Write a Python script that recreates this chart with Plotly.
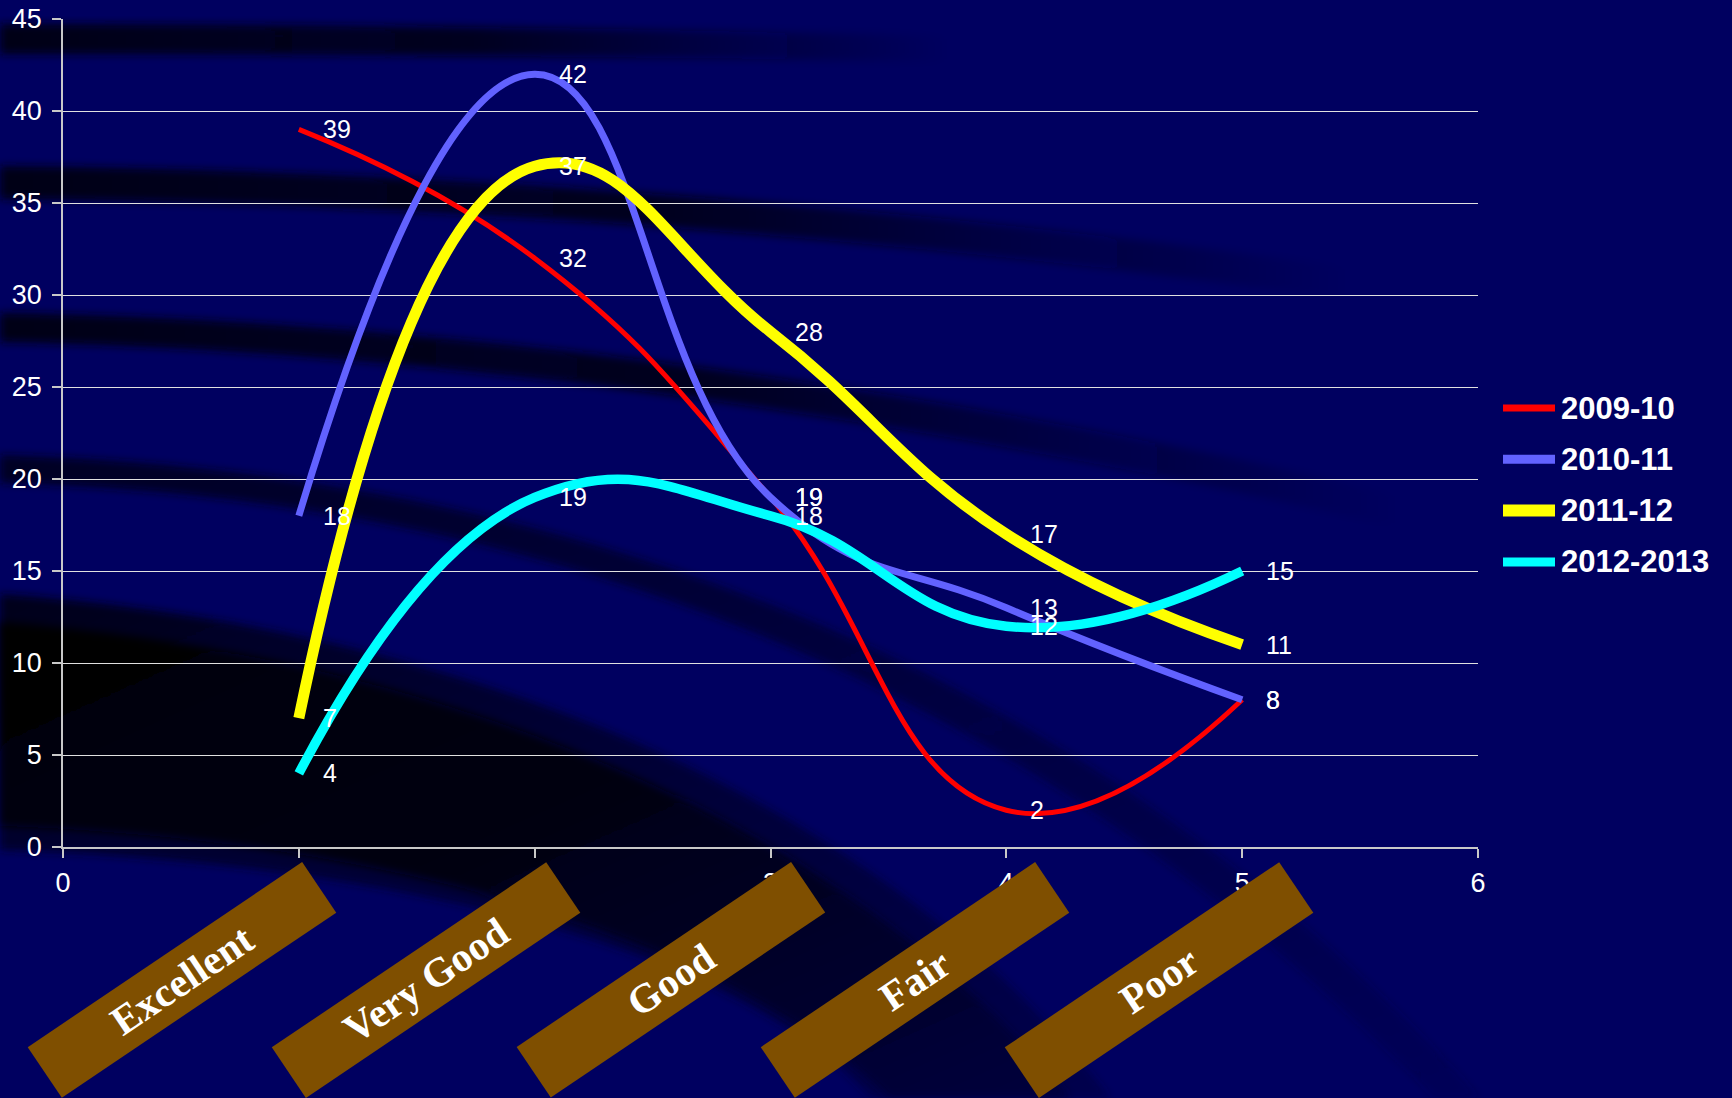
import base64
import plotly.graph_objects as go

# ---------------- data ----------------
x_vals = [1, 2, 3, 4, 5]
categories = ["Excellent", "Very Good", "Good", "Fair", "Poor"]
series_names = ["2009-10", "2010-11", "2011-12", "2012-2013"]
s2009 = [39, 32, 19, 2, 8]
s2010 = [18, 42, 19, 13, 8]
s2011 = [7, 37, 28, 17, 11]
s2012 = [4, 19, 18, 12, 15]
y_ticks = [0, 5, 10, 15, 20, 25, 30, 35, 40, 45]
x_ticks = [0, 1, 2, 3, 4, 5, 6]

series_values = [s2009, s2010, s2011, s2012]
colors = ["#FF0000", "#6262FF", "#FFFF00", "#00FFFF"]
widths = [5, 7, 11, 9.5]
legend_widths = [7, 9, 12, 9]

W, H = 1732, 1098
ML, MR, MT, MB = 63, 254, 19, 251
PW, PH = W - ML - MR, H - MT - MB


def px_x(p):
    return (p - ML) / PW


def px_y(p):
    return (H - MB - p) / PH


# ---------------- background (decorative) ----------------
svg = f'''<svg xmlns="http://www.w3.org/2000/svg" width="{W}" height="{H}" viewBox="0 0 {W} {H}">
<defs>
<filter id="b" x="-5%" y="-20%" width="110%" height="140%"><feGaussianBlur stdDeviation="4"/></filter>
<linearGradient id="g1" x1="0" y1="0" x2="1" y2="0">
<stop offset="0" stop-color="#000014" stop-opacity="1"/>
<stop offset="0.5" stop-color="#000014" stop-opacity="0.8"/>
<stop offset="1" stop-color="#000014" stop-opacity="0"/></linearGradient>
<linearGradient id="g4" x1="0" y1="0" x2="1" y2="1">
<stop offset="0" stop-color="#000018" stop-opacity="0.85"/>
<stop offset="0.6" stop-color="#000028" stop-opacity="0.45"/>
<stop offset="1" stop-color="#000030" stop-opacity="0.2"/></linearGradient>
<linearGradient id="g5" x1="0" y1="0" x2="1" y2="1">
<stop offset="0" stop-color="#000003" stop-opacity="1"/>
<stop offset="0.45" stop-color="#000010" stop-opacity="0.95"/>
<stop offset="1" stop-color="#000030" stop-opacity="0.55"/></linearGradient>
<linearGradient id="g6" x1="0" y1="0" x2="1" y2="1">
<stop offset="0" stop-color="#000018" stop-opacity="0.95"/>
<stop offset="1" stop-color="#000030" stop-opacity="0.4"/></linearGradient>
</defs>
<rect width="{W}" height="{H}" fill="#000060"/>
<path d="M0,24 C300,24 600,28 950,36 L950,62 C600,56 300,54 0,54 Z" fill="url(#g1)" filter="url(#b)"/>
<path d="M0,166 C450,170 950,210 1350,268 L1350,300 C950,243 450,202 0,199 Z" fill="url(#g1)" filter="url(#b)"/>
<path d="M0,313 C450,320 950,390 1400,495 L1400,528 C950,424 450,350 0,342 Z" fill="url(#g1)" filter="url(#b)"/>
<path d="M0,455 C500,470 1050,620 1480,1098 L1435,1098 C1000,650 500,496 0,483 Z" fill="url(#g4)" filter="url(#b)"/>
<path d="M0,594 C500,630 900,820 1110,1098 L870,1098 C740,950 400,862 0,850 Z" fill="url(#g6)" filter="url(#b)"/>
<path d="M0,622 C480,660 860,840 1070,1098 L890,1098 C730,940 400,840 0,826 Z" fill="url(#g5)" filter="url(#b)"/>
</svg>'''
bg_uri = "data:image/svg+xml;base64," + base64.b64encode(svg.encode()).decode()

fig = go.Figure()
for name, vals, c, w in zip(series_names, series_values, colors, widths):
    fig.add_trace(go.Scatter(
        x=x_vals, y=vals, name=name, mode="lines",
        line=dict(color=c, width=w, shape="spline", smoothing=1.3),
        hoverinfo="x+y+name", showlegend=False,
    ))

annotations = []
shapes = []
# data labels
for vals in series_values:
    for xv, yv in zip(x_vals, vals):
        annotations.append(dict(
            x=xv, y=yv, xref="x", yref="y", text=str(yv), showarrow=False,
            xanchor="left", yanchor="middle", xshift=22,
            font=dict(family="Liberation Sans, Arial", size=25, color="white"),
        ))
# category boxes
for i, (xv, cat) in enumerate(zip(x_vals, categories)):
    annotations.append(dict(
        x=xv, y=-0.1606, xref="x", yref="paper", text=f"<b>{cat}</b>",
        showarrow=False, xanchor="center", yanchor="middle",
        xshift=-117 + 8.5 * i, textangle=-34,
        width=330, height=60, borderpad=0,
        bgcolor="#7F4F00",
        font=dict(family="Liberation Serif, Times New Roman", size=41, color="white"),
    ))
# legend (drawn manually to match the long, thick sample lines)
for i, (name, c, lw) in enumerate(zip(series_names, colors, legend_widths)):
    yc = 408 + 51.3 * i
    shapes.append(dict(
        type="line", xref="paper", yref="paper",
        x0=px_x(1503), x1=px_x(1555), y0=px_y(yc), y1=px_y(yc),
        line=dict(color=c, width=lw),
    ))
    annotations.append(dict(
        x=px_x(1559), y=px_y(yc), xref="paper", yref="paper", text=f"<b>{name}</b>",
        showarrow=False, xanchor="left", yanchor="middle",
        font=dict(family="Liberation Sans, Arial", size=31, color="white"),
    ))

axis_font = dict(family="Liberation Sans, Arial", size=27, color="white")
fig.update_layout(
    width=W, height=H,
    margin=dict(l=ML, r=MR, t=MT, b=MB, pad=0, autoexpand=False),
    paper_bgcolor="#000060",
    plot_bgcolor="rgba(0,0,0,0)",
    showlegend=False,
    xaxis=dict(
        range=[0, 6], tickvals=x_ticks, ticktext=[str(t) for t in x_ticks],
        showgrid=False, zeroline=False, showline=True, linecolor="#C8C8C8", linewidth=1.5,
        ticks="outside", ticklen=9, tickcolor="#C8C8C8", tickwidth=1.5,
        tickfont=axis_font, ticklabelstandoff=2, automargin=False,
    ),
    yaxis=dict(
        range=[0, 45], tickvals=y_ticks, ticktext=[str(t) for t in y_ticks],
        showgrid=True, gridcolor="#E0E0E0", gridwidth=1,
        zeroline=False, showline=True, linecolor="#C8C8C8", linewidth=1.5,
        ticks="outside", ticklen=9, tickcolor="#C8C8C8", tickwidth=1.5,
        tickfont=axis_font, ticklabelstandoff=5, automargin=False,
    ),
    annotations=annotations,
    shapes=shapes,
    images=[dict(
        source=bg_uri, xref="paper", yref="paper",
        x=-ML / PW, y=1 + MT / PH, sizex=W / PW, sizey=H / PH,
        xanchor="left", yanchor="top", sizing="stretch", layer="below",
    )],
)

fig.write_html("out.html")
